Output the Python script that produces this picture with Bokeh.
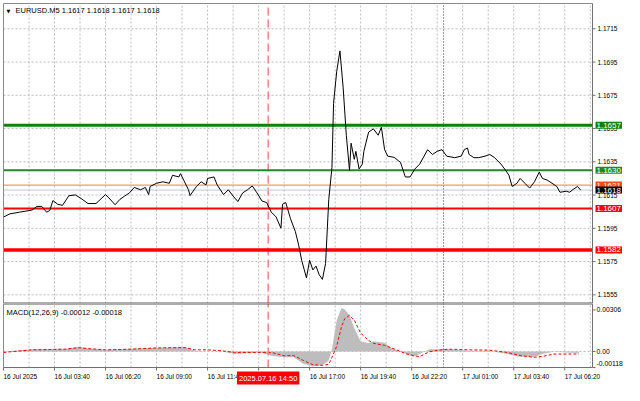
from bokeh.plotting import figure
from bokeh.models import Range1d, Label
from bokeh.layouts import column
from bokeh.core.properties import value
from bokeh.embed import file_html
from bokeh.resources import INLINE

# ---------------- data ----------------
# time in minutes since 16 Jul 2025 00:00 (M5 chart)
price_t = [60, 80, 110, 150, 165, 180, 195, 205, 215, 230, 245, 265, 285, 300, 325, 350, 380, 390, 410, 425,
           440, 455, 470, 490, 505, 515, 520, 540, 560, 580, 590, 610, 615, 625, 640, 645, 665, 680, 695, 700,
           720, 730, 750, 765, 780, 795, 810, 825, 840, 855, 870, 885, 900, 915, 930, 935, 945, 960, 975, 985,
           995, 1010, 1020, 1030, 1040, 1050, 1060, 1070, 1080, 1090, 1095, 1105, 1115, 1125, 1135, 1145, 1150,
           1160, 1165, 1175, 1185, 1190, 1205, 1220, 1235, 1245, 1255, 1265, 1285, 1305, 1320, 1335, 1350, 1365,
           1390, 1405, 1420, 1435, 1450, 1475, 1495, 1505, 1515, 1520, 1535, 1550, 1570, 1585, 1600, 1620, 1635,
           1645, 1655, 1670, 1680, 1695, 1710, 1725, 1740, 1750, 1765, 1780, 1795, 1805, 1825, 1835, 1845, 1860, 1870]
price_v = [1.16018, 1.16037, 1.16047, 1.16060, 1.16082, 1.16082, 1.16047, 1.16057, 1.16117, 1.16095, 1.16088,
           1.16146, 1.16151, 1.16134, 1.16099, 1.16099, 1.16153, 1.16134, 1.16092, 1.16124, 1.16144, 1.16163,
           1.16196, 1.16182, 1.16196, 1.16153, 1.16202, 1.16221, 1.16230, 1.16221, 1.16269, 1.16259, 1.16279,
           1.16240, 1.16182, 1.16147, 1.16202, 1.16230, 1.16211, 1.16250, 1.16259, 1.16211, 1.16153, 1.16182,
           1.16144, 1.16111, 1.16163, 1.16182, 1.16205, 1.16163, 1.16115, 1.16105, 1.16047, 1.16018, 1.15951,
           1.16095, 1.16105, 1.16008, 1.15932, 1.15855, 1.15758, 1.15652, 1.15758, 1.15700, 1.15723, 1.15671,
           1.15643, 1.15739, 1.16124, 1.16317, 1.16702, 1.16895, 1.17017, 1.16799, 1.16510, 1.16298, 1.16462,
           1.16365, 1.16413, 1.16307, 1.16336, 1.16413, 1.16529, 1.16548, 1.16510, 1.16558, 1.16423, 1.16384,
           1.16377, 1.16346, 1.16259, 1.16259, 1.16307, 1.16336, 1.16423, 1.16394, 1.16413, 1.16423, 1.16384,
           1.16375, 1.16384, 1.16423, 1.16433, 1.16394, 1.16375, 1.16375, 1.16384, 1.16394, 1.16375, 1.16336,
           1.16298, 1.16269, 1.16202, 1.16221, 1.16250, 1.16221, 1.16192, 1.16230, 1.16288, 1.16250, 1.16240,
           1.16221, 1.16202, 1.16167, 1.16173, 1.16167, 1.16182, 1.16202, 1.16180]

level_values = [1.1657, 1.1630, 1.1621, 1.1618, 1.1607, 1.1582]
level_labels = ["1.1657", "1.1630", "1.1621", "1.1618", "1.1607", "1.1582"]

price_ticks = [1.1555, 1.1575, 1.1595, 1.1615, 1.1635, 1.1655, 1.1675, 1.1695, 1.1715]
price_tick_labels = ["1.1555", "1.1575", "1.1595", "1.1615", "1.1635", "1.1655", "1.1675", "1.1695", "1.1715"]

time_ticks = [60, 220, 380, 540, 700, 860, 1020, 1180, 1340, 1500, 1660, 1820]
time_labels = ["16 Jul 2025", "16 Jul 03:40", "16 Jul 06:20", "16 Jul 09:00", "16 Jul 11:40", "16 Jul 14:20",
               "16 Jul 17:00", "16 Jul 19:40", "16 Jul 22:20", "17 Jul 01:00", "17 Jul 03:40", "17 Jul 06:20"]

macd_t = [60, 150, 255, 295, 325, 380, 460, 540, 630, 660, 700, 745, 785, 865, 900, 940, 970, 1000, 1030, 1060,
          1080, 1090, 1105, 1120, 1130, 1145, 1160, 1180, 1205, 1220, 1255, 1275, 1305, 1325, 1345, 1365, 1395,
          1425, 1455, 1520, 1580, 1600, 1640, 1680, 1725, 1750, 1785, 1825, 1865]
macd_hist = [0.0, 0.00017, 0.00021, 0.00033, 0.00024, 0.00012, 0.00021, 0.00028, 0.00033, 0.00005, 0.0, 0.0,
             -0.00019, -0.00007, -0.00031, -0.00043, -0.00043, -0.0009, -0.00109, -0.00102, -0.00066, 0.00017,
             0.0023, 0.0032, 0.0031, 0.00266, 0.00171, 0.00076, 0.0006, 0.00076, 0.00064, 0.00028, 0.0, -0.0002,
             -0.00038, -0.00019, 0.00017, 0.00017, 0.00017, 0.00005, 0.00005, -0.00002, -0.00019, -0.00038,
             -0.00038, -0.00019, -0.00002, -0.00007, -0.00012]
macd_signal = [-0.00007, 0.00012, 0.00017, 0.00028, 0.00021, 0.00012, 0.00017, 0.00026, 0.00028, 0.00012,
               0.00012, 0.00005, -0.00007, -0.00007, -0.00007, -0.00031, -0.0003, -0.00066, -0.00097, -0.00102,
               -0.00095, -0.00043, 0.0004, 0.00183, 0.00242, 0.00266, 0.0023, 0.00135, 0.00081, 0.0006, 0.00045,
               0.00028, 0.0, -0.00019, -0.0003, -0.00038, -0.00002, 0.0001, 0.00017, 0.00012, 0.0001, 0.00005,
               -0.00007, -0.0003, -0.00043, -0.00036, -0.00019, -0.00019, -0.00018]
macd_ticks = [0.00306, 0.0, -0.00118]
macd_tick_labels = ["0.00306", "0.00", "-0.00118"]

marker_t = 890
marker_label = "2025.07.16 14:50"
day_sep_t = 1440
title_text = "EURUSD.M5  1.1617 1.1618 1.1617 1.1618"
macd_text = "MACD(12,26,9) -0.00012 -0.00018"

# ---------------- layout / styling ----------------
FONT = "Liberation Sans"
W = 624
X0, X1 = 60, 1907              # time span of the chart area
Y0, Y1 = 1.15498, 1.17302      # price span of the main chart area
M0, M1 = -0.00118, 0.003534    # MACD span
FH, MH = 303, 82               # figure heights
PL, PR, PT = 3, 592, 3         # chart area pixel bounds inside the frame
MP = 64                        # MACD chart area height

sx = (PR - PL) / (X1 - X0)
XL = X0 - PL / sx
XR = X1 + (W - PR) / sx
sy = (FH - PT) / (Y1 - Y0)
YT = Y1 + PT / sy
sm = MP / (M1 - M0)
MB = M0 - (MH - MP) / sm
TICK = 3

GRID_C = "#bdbdbd"
AXIS_C = "#707070"
BORDER_C = "#8a8a8a"
SEP_C = "#5a5a5a"
level_colors = ["#0f7f0f", "#1e8c1e", "#ff7f2a", "#c8c8c8", "#ff0000", "#ff0000"]
level_widths = [3.2, 2, 1, 1, 2, 3.5]
box_colors = ["#0f7f0f", "#1e8c1e", "#ff4a10", "#000000", "#ff0000", "#ff0000"]
grid_x = list(range(X0 + 80, X1, 80))
xr = Range1d(XL, XR)


def bare(fig):
    fig.xaxis.visible = False
    fig.yaxis.visible = False
    fig.xgrid.visible = False
    fig.ygrid.visible = False
    fig.outline_line_color = None
    fig.background_fill_color = "white"
    fig.border_fill_color = "white"


# ---------------- main panel ----------------
p = figure(width=W, height=FH, x_range=xr, y_range=Range1d(Y0, YT), title=None,
           output_backend="svg", toolbar_location=None,
           min_border_left=0, min_border_right=0, min_border_top=0, min_border_bottom=0)
bare(p)

# grid
p.segment(x0=grid_x, x1=grid_x, y0=[Y0] * len(grid_x), y1=[Y1] * len(grid_x),
          line_color=GRID_C, line_dash="2 2", line_width=1)
p.segment(x0=[X0] * len(price_ticks), x1=[X1] * len(price_ticks), y0=price_ticks, y1=price_ticks,
          line_color=GRID_C, line_dash="2 2", line_width=1)

# markers
p.segment(x0=[marker_t], x1=[marker_t], y0=[Y0], y1=[Y1], line_color="#ff8080", line_width=1.5, line_dash="8 4")
p.segment(x0=[day_sep_t], x1=[day_sep_t], y0=[Y0], y1=[Y1], line_color="#303030", line_width=1, line_dash="1 2")

# levels
for v, c, w in zip(level_values, level_colors, level_widths):
    p.segment(x0=[X0], x1=[X1], y0=[v], y1=[v], line_color=c, line_width=w)

# price
p.line(price_t, price_v, line_color="#000000", line_width=1)

# borders and axis
p.segment(x0=[X0, X0], x1=[X1, X0], y0=[Y1, Y0], y1=[Y1, Y1], line_color=BORDER_C, line_width=1)
p.segment(x0=[X1], x1=[X1], y0=[Y0], y1=[Y1], line_color=AXIS_C, line_width=1)
p.segment(x0=[X0], x1=[X1], y0=[Y0], y1=[Y0], line_color=SEP_C, line_width=2)
p.segment(x0=[X1] * len(price_ticks), x1=[X1 + TICK / sx] * len(price_ticks), y0=price_ticks, y1=price_ticks,
          line_color=AXIS_C, line_width=1)
p.text(x=[X1] * len(price_ticks), y=price_ticks, text=price_tick_labels, x_offset=5,
       text_align="left", text_baseline="middle", text_font=value(FONT),
       text_font_size=value("6.5px"), text_color="#000000")

for v, t, c in zip(level_values, level_labels, box_colors):
    p.add_layout(Label(x=X1, y=v, x_offset=3, text=t, text_align="left", text_baseline="middle",
                       text_font=FONT, text_font_size="8px", text_color="white",
                       background_fill_color=c, padding=1))

p.add_layout(Label(x=X0, y=Y1, x_offset=3, y_offset=-4, text="▼", text_font="DejaVu Sans",
                   text_font_size="5px", text_baseline="top", text_color="#000000"))
p.add_layout(Label(x=X0, y=Y1, x_offset=12, y_offset=-2, text=title_text, text_font=FONT,
                   text_font_size="7.5px", text_baseline="top", text_color="#000000"))

# ---------------- MACD panel ----------------
q = figure(width=W, height=MH, x_range=xr, y_range=Range1d(MB, M1), title=None,
           output_backend="svg", toolbar_location=None,
           min_border_left=0, min_border_right=0, min_border_top=0, min_border_bottom=0)
bare(q)

q.segment(x0=grid_x, x1=grid_x, y0=[M0] * len(grid_x), y1=[M1] * len(grid_x),
          line_color=GRID_C, line_dash="2 2", line_width=1)
q.segment(x0=[X0], x1=[X1], y0=[0.0], y1=[0.0], line_color=GRID_C, line_dash="2 2", line_width=1)

q.varea(x=macd_t, y1=0, y2=macd_hist, fill_color="#bdbdbd")
q.line(macd_t, macd_signal, line_color="#ff0000", line_width=1, line_dash="3 2")

q.segment(x0=[marker_t], x1=[marker_t], y0=[M0], y1=[M1], line_color="#ff8080", line_width=1.5, line_dash="8 4")
q.segment(x0=[day_sep_t], x1=[day_sep_t], y0=[M0], y1=[M1], line_color="#303030", line_width=1, line_dash="1 2")

# borders and axes
q.segment(x0=[X0], x1=[X1], y0=[M1], y1=[M1], line_color=SEP_C, line_width=2)
q.segment(x0=[X0], x1=[X0], y0=[M0], y1=[M1], line_color=BORDER_C, line_width=1)
q.segment(x0=[X1, X0], x1=[X1, X1], y0=[M0, M0], y1=[M1, M0], line_color=AXIS_C, line_width=1)
q.segment(x0=[X1] * len(macd_ticks), x1=[X1 + TICK / sx] * len(macd_ticks), y0=macd_ticks, y1=macd_ticks,
          line_color=AXIS_C, line_width=1)
q.segment(x0=time_ticks, x1=time_ticks, y0=[M0] * len(time_ticks), y1=[M0 - TICK / sm] * len(time_ticks),
          line_color=AXIS_C, line_width=1)

q.text(x=[X1] * len(macd_ticks), y=macd_ticks, text=macd_tick_labels, x_offset=4,
       y_offset=[0, 0, -4], text_align="left", text_baseline="middle", text_font=value(FONT),
       text_font_size=value("6.8px"), text_color="#000000")
q.text(x=time_ticks, y=[M0] * len(time_ticks), text=time_labels, y_offset=5,
       text_align="left", text_baseline="top", text_font=value(FONT),
       text_font_size=value("6.5px"), text_color="#000000")

q.add_layout(Label(x=marker_t, y=M0, y_offset=-4, text=marker_label, text_align="center",
                   text_baseline="top", text_font=FONT, text_font_size="7.5px", text_color="white",
                   background_fill_color="#ff0000", padding=2))

q.add_layout(Label(x=X0, y=M1, x_offset=3, y_offset=-4, text=macd_text, text_font=FONT,
                   text_font_size="7.5px", text_baseline="top", text_color="#000000"))

layout = column(p, q, spacing=0)
open("out.html", "w").write(file_html(layout, INLINE))
